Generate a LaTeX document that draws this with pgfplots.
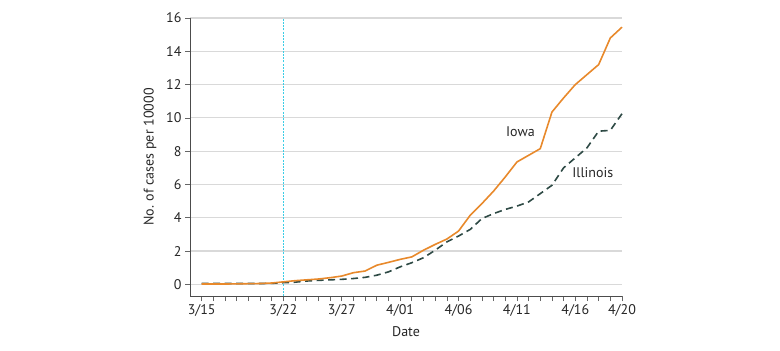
\documentclass[border=0pt]{standalone}
\usepackage{pgfplots}
\pgfplotsset{compat=1.18}
\usepackage{fontspec}
\setmainfont{PT Sans}
\definecolor{iowa}{HTML}{E8892B}
\definecolor{ill}{HTML}{2E4A45}
\definecolor{refcyan}{RGB}{60,205,230}
\begin{document}
\begin{tikzpicture}[x=1pt,y=1pt]
\useasboundingbox (0,0) rectangle (780,351);
\begin{axis}[
  at={(190pt,55pt)}, anchor=south west, scale only axis,
  width=432pt, height=278pt,
  xmin=-1, xmax=36, ymin=-0.7, ymax=16,
  axis x line*=bottom, axis y line*=left,
  axis line style={-, draw=black!70, line width=0.8pt},
  xtick={0,7,12,17,22,27,32,36},
  xticklabels={3/15,3/22,3/27,4/01,4/06,4/11,4/16,4/20},
  minor xtick={0,1,...,36},
  ytick={0,2,...,16},
  ymajorgrids, grid style={black!15, line width=1.2pt},
  tick align=outside, major tick length=5pt, minor tick length=5pt,
  every tick/.style={draw=black!60, line width=0.7pt},
  minor tick style={draw=black!60, line width=0.7pt},
  tick label style={font=\fontsize{14}{16}\selectfont, text=black!85},
  /pgf/number format/assume math mode=true,
  xlabel={Date}, ylabel={No. of cases per 10000},
  label style={font=\fontsize{14}{16}\selectfont, text=black!85},
  xlabel style={at={(axis description cs:0.5,-0.127)}, anchor=center},
  ylabel style={at={(axis description cs:-0.0926,0.5)}, anchor=center, rotate=0},
  clip=false,
]
\addplot[color=refcyan, line width=1.4pt, dash pattern=on 2pt off 1.2pt] coordinates {(7,-0.7) (7,16)};
\addplot[draw=ill, dash pattern=on 7pt off 4.5pt, line width=1.6pt] coordinates {
(0,0.05)(1,0.05)(2,0.05)(3,0.05)(4,0.05)(5,0.05)(6,0.06)(7,0.1)(8,0.13)(9,0.2)
(10,0.24)(11,0.27)(12,0.3)(13,0.35)(14,0.42)(15,0.55)(16,0.75)(17,1.05)(18,1.3)(19,1.6)
(20,2.05)(21,2.55)(22,2.9)(23,3.3)(24,3.95)(25,4.25)(26,4.5)(27,4.7)(28,4.95)(29,5.45)
(30,5.95)(31,7.0)(32,7.6)(33,8.2)(34,9.2)(35,9.25)(36,10.25)};
\addplot[draw=iowa, line width=1.6pt] coordinates {
(0,0.02)(1,0.02)(2,0.02)(3,0.03)(4,0.04)(5,0.05)(6,0.08)(7,0.15)(8,0.22)(9,0.27)
(10,0.32)(11,0.4)(12,0.5)(13,0.7)(14,0.8)(15,1.15)(16,1.32)(17,1.5)(18,1.65)(19,2.05)
(20,2.4)(21,2.72)(22,3.2)(23,4.15)(24,4.85)(25,5.6)(26,6.45)(27,7.35)(28,7.75)(29,8.15)
(30,10.35)(31,11.2)(32,12.0)(33,12.6)(34,13.2)(35,14.8)(36,15.45)};
\node[font=\fontsize{14}{16}\selectfont, text=black!85] at (axis cs:27.3,9.2) {Iowa};
\node[font=\fontsize{14}{16}\selectfont, text=black!85] at (axis cs:33.5,6.74) {Illinois};
\end{axis}
\end{tikzpicture}
\end{document}
